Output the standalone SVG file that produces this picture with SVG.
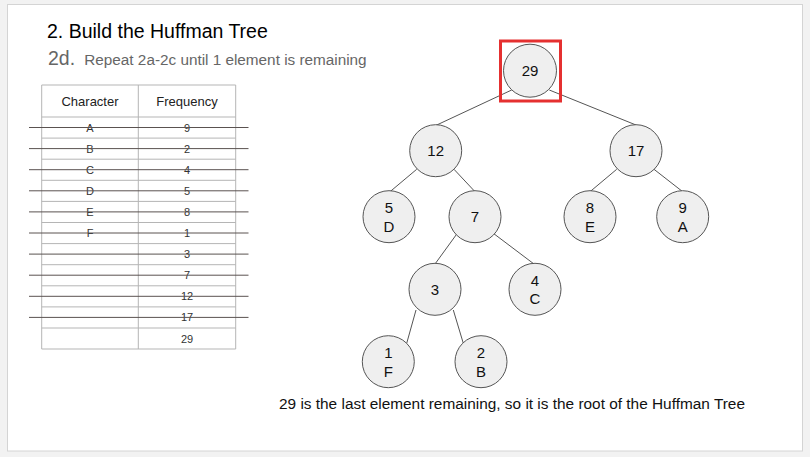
<svg xmlns="http://www.w3.org/2000/svg" width="810" height="457" viewBox="0 0 810 457">
<style>
text{font-family:"Liberation Sans",Arial,sans-serif;}
.node circle{fill:#efefef;stroke:#555;stroke-width:1;}
.node text{font-size:15px;fill:#111;text-anchor:middle;}
.edges line{stroke:#555;stroke-width:1;}
.grid line{stroke:#b5b5b5;stroke-width:1;}
.cell{font-size:11px;fill:#333;text-anchor:middle;}
.strike line{stroke:#5a5250;stroke-width:1;}
</style>
<rect x="0" y="0" width="810" height="457" fill="#f2f2f2"/>
<rect x="7.5" y="4.5" width="795" height="446.5" fill="#ffffff" stroke="#d4d4d4" stroke-width="1"/>

<text x="47" y="37.5" font-size="19.5" fill="#000">2. Build the Huffman Tree</text>
<text x="48" y="65" fill="#666"><tspan font-size="19.5">2d.</tspan><tspan x="84.3" font-size="15.3">Repeat 2a-2c until 1 element is remaining</tspan></text>

<g id="table">
  <g class="grid">
    <line x1="41.7" y1="85" x2="235.7" y2="85"/>
    <line x1="41.7" y1="85" x2="41.7" y2="349"/>
    <line x1="138.3" y1="85" x2="138.3" y2="349"/>
    <line x1="235.7" y1="85" x2="235.7" y2="349"/>
    <line x1="41.7" y1="117" x2="235.7" y2="117"/>
    <line x1="41.7" y1="138.1" x2="235.7" y2="138.1"/>
    <line x1="41.7" y1="159.2" x2="235.7" y2="159.2"/>
    <line x1="41.7" y1="180.3" x2="235.7" y2="180.3"/>
    <line x1="41.7" y1="201.4" x2="235.7" y2="201.4"/>
    <line x1="41.7" y1="222.5" x2="235.7" y2="222.5"/>
    <line x1="41.7" y1="243.6" x2="235.7" y2="243.6"/>
    <line x1="41.7" y1="264.7" x2="235.7" y2="264.7"/>
    <line x1="41.7" y1="285.8" x2="235.7" y2="285.8"/>
    <line x1="41.7" y1="306.9" x2="235.7" y2="306.9"/>
    <line x1="41.7" y1="328" x2="235.7" y2="328"/>
    <line x1="41.7" y1="349" x2="235.7" y2="349"/>
  </g>
  <text x="90" y="106" font-size="13" fill="#222" text-anchor="middle">Character</text>
  <text x="187" y="106" font-size="13" fill="#222" text-anchor="middle">Frequency</text>
  <text class="cell" x="90" y="131.5">A</text><text class="cell" x="187" y="131.5">9</text>
  <text class="cell" x="90" y="152.6">B</text><text class="cell" x="187" y="152.6">2</text>
  <text class="cell" x="90" y="173.7">C</text><text class="cell" x="187" y="173.7">4</text>
  <text class="cell" x="90" y="194.8">D</text><text class="cell" x="187" y="194.8">5</text>
  <text class="cell" x="90" y="215.9">E</text><text class="cell" x="187" y="215.9">8</text>
  <text class="cell" x="90" y="237">F</text><text class="cell" x="187" y="237">1</text>
  <text class="cell" x="187" y="258.1">3</text>
  <text class="cell" x="187" y="279.2">7</text>
  <text class="cell" x="187" y="300.3">12</text>
  <text class="cell" x="187" y="321.4">17</text>
  <text class="cell" x="187" y="342.5">29</text>
  <g class="strike">
    <line x1="29" y1="127.5" x2="248.5" y2="127.5"/>
    <line x1="29" y1="148.6" x2="248.5" y2="148.6"/>
    <line x1="29" y1="169.7" x2="248.5" y2="169.7"/>
    <line x1="29" y1="190.8" x2="248.5" y2="190.8"/>
    <line x1="29" y1="211.9" x2="248.5" y2="211.9"/>
    <line x1="29" y1="233" x2="248.5" y2="233"/>
    <line x1="29" y1="254.1" x2="248.5" y2="254.1"/>
    <line x1="29" y1="275.2" x2="248.5" y2="275.2"/>
    <line x1="29" y1="296.3" x2="248.5" y2="296.3"/>
    <line x1="29" y1="317.4" x2="248.5" y2="317.4"/>
  </g>
</g>

<g class="edges" id="connectors">
  <line x1="511.7" y1="90" x2="435.7" y2="125.5"/>
  <line x1="549.3" y1="90" x2="636" y2="125"/>
  <line x1="416.7" y1="169.3" x2="390" y2="191.7"/>
  <line x1="454" y1="169.3" x2="475" y2="191.7"/>
  <line x1="616.7" y1="169.3" x2="590" y2="191.7"/>
  <line x1="654" y1="169.3" x2="682.7" y2="191.7"/>
  <line x1="457.3" y1="233.3" x2="435" y2="264"/>
  <line x1="493.3" y1="233.3" x2="534" y2="264"/>
  <line x1="416" y1="310" x2="406.7" y2="343.3"/>
  <line x1="453.3" y1="310" x2="463.3" y2="343.3"/>
</g>

<g id="n29" class="node"><circle cx="530" cy="70.7" r="26.5"/><text x="530" y="76">29</text></g>
<g id="n12" class="node"><circle cx="435.7" cy="150.7" r="26"/><text x="435.7" y="156">12</text></g>
<g id="n17" class="node"><circle cx="636" cy="150.7" r="26"/><text x="636" y="156">17</text></g>
<g id="n5D" class="node"><circle cx="389" cy="216.7" r="26"/><text x="389" y="213.3">5</text><text x="389" y="231.7">D</text></g>
<g id="n7" class="node"><circle cx="475" cy="216.7" r="26"/><text x="475" y="222">7</text></g>
<g id="n8E" class="node"><circle cx="590" cy="216.7" r="26"/><text x="590" y="213.3">8</text><text x="590" y="231.7">E</text></g>
<g id="n9A" class="node"><circle cx="682.7" cy="216.7" r="26"/><text x="682.7" y="213.3">9</text><text x="682.7" y="231.7">A</text></g>
<g id="n3" class="node"><circle cx="435" cy="289.3" r="26"/><text x="435" y="294.6">3</text></g>
<g id="n4C" class="node"><circle cx="535" cy="289.3" r="26"/><text x="535" y="285.9">4</text><text x="535" y="304.3">C</text></g>
<g id="n1F" class="node"><circle cx="388.3" cy="361.7" r="26"/><text x="388.3" y="358.3">1</text><text x="388.3" y="376.7">F</text></g>
<g id="n2B" class="node"><circle cx="481" cy="361.7" r="26"/><text x="481" y="358.3">2</text><text x="481" y="376.7">B</text></g>

<rect id="highlight" x="500.5" y="41" width="60" height="60" fill="none" stroke="#e53030" stroke-width="3"/>

<text x="279" y="408.5" font-size="15.4" fill="#111">29 is the last element remaining, so it is the root of the Huffman Tree</text>
</svg>
